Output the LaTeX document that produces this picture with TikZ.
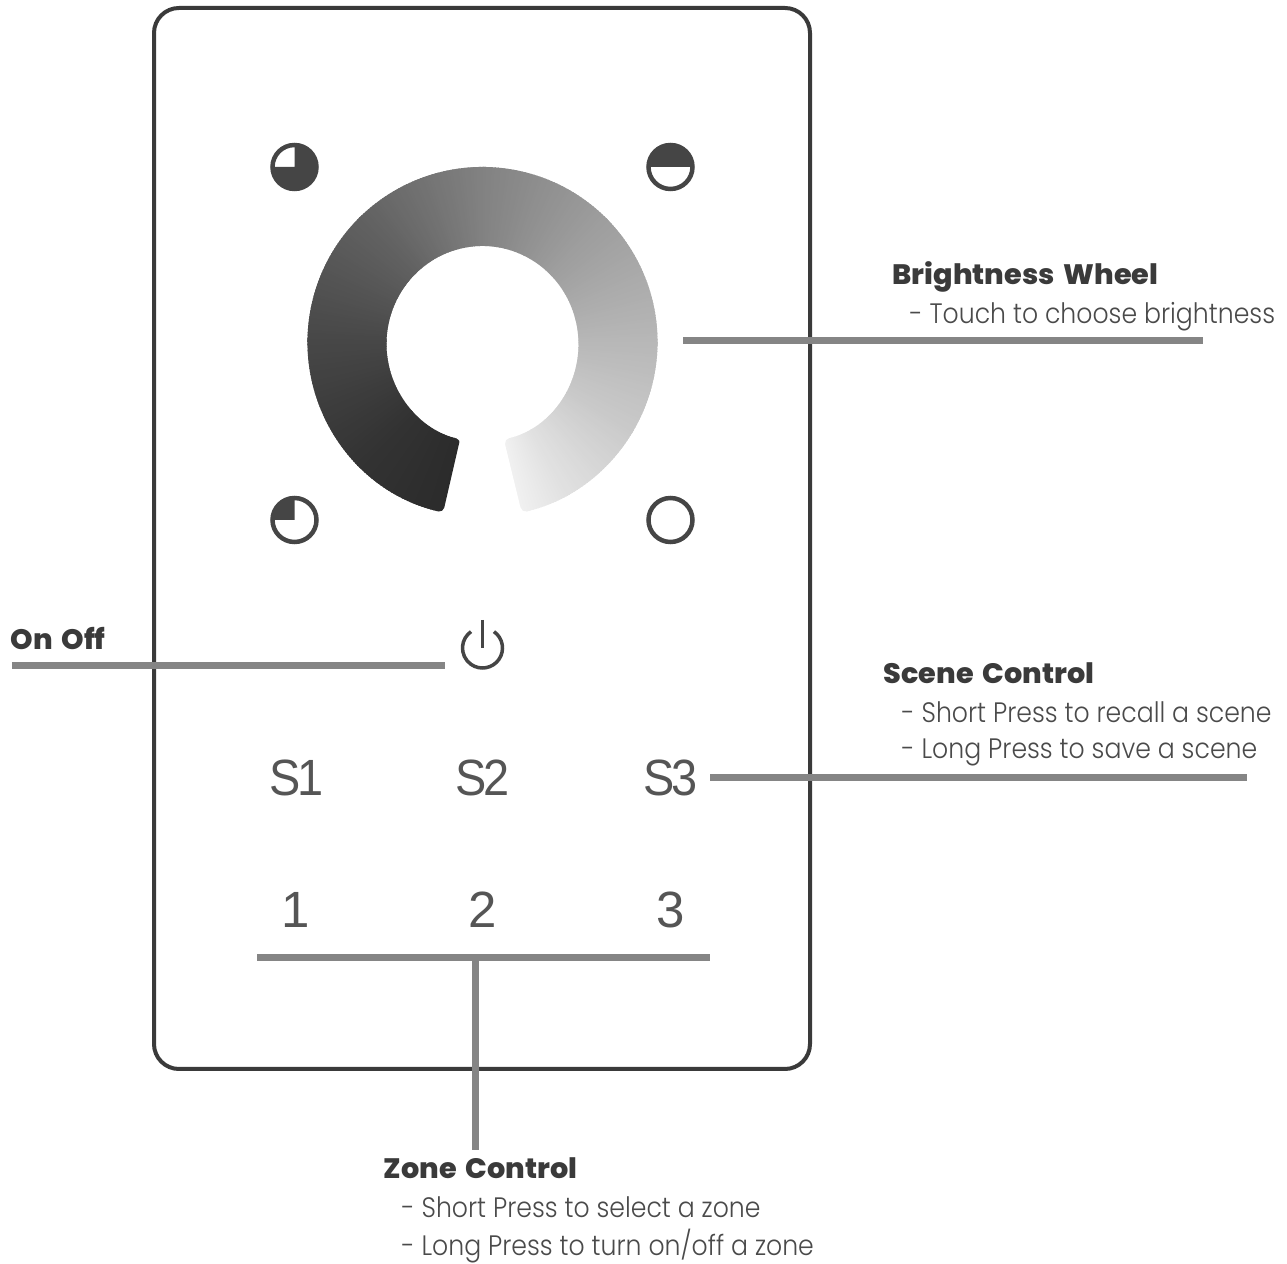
\documentclass[tikz,border=0pt]{standalone}
\usepackage{fontspec}
\setmainfont{Liberation Sans}
\newfontfamily\keyfont[LetterSpace=-6,FakeStretch=0.92]{Liberation Sans}
\newfontfamily\headfont[FakeStretch=1.02,WordSpace=1.6]{Poppins ExtraBold}
\newfontfamily\notefont[FakeStretch=0.895]{Poppins Light}
\definecolor{panelline}{HTML}{3A3A3A}
\definecolor{leaderline}{HTML}{858585}
\definecolor{keytext}{HTML}{555555}
\definecolor{iconline}{HTML}{454545}
\definecolor{notetext}{HTML}{4A4A4A}
\begin{document}
\begin{tikzpicture}[x=1cm,y=1cm]
\tikzset{
  leader/.style={line width=0.07cm,leaderline},
  keylabel/.style={font=\fontsize{14.5}{16}\selectfont,text=keytext,inner sep=0pt},
  scenelabel/.style={keylabel,font=\keyfont\fontsize{14.5}{16}\selectfont},
  headlabel/.style={font=\headfont\fontsize{8}{10}\selectfont,text=panelline,inner sep=0pt,anchor=west},
  notelabel/.style={font=\notefont\fontsize{8}{10}\selectfont,text=notetext,inner sep=0pt,anchor=west},
  lamp/.style={circle,draw=iconline,line width=0.045cm,minimum size=0.44cm,inner sep=0pt}
}
\useasboundingbox (0,0) rectangle (12.87,12.64);
\draw[panelline,line width=0.04cm,rounded corners=0.25cm] (1.54,1.95) rectangle (8.10,12.56);
% wheel
\coordinate (c_W) at (4.825,9.22);
\coordinate (i_W) at (4.825,9.20);
\begin{scope}
\path[clip,rounded corners=0.05cm] ([shift={(c_W)}]257:1.75) arc[start angle=257,end angle=-77,radius=1.75]
  -- ([shift={(i_W)}]-77:0.96 and 0.98) arc[start angle=-77,end angle=257,x radius=0.96,y radius=0.98] -- cycle;
\foreach \a/\b/\ga/\gb in {0/32/0.17/0.20,32/77/0.20/0.28,77/122/0.28/0.38,122/167/0.38/0.51,167/212/0.51/0.62,
  212/257/0.62/0.72,257/287/0.72/0.79,287/317/0.79/0.88,317/335/0.88/0.95}{
  \foreach \d in {\a,...,\b}{
    \pgfmathsetmacro{\g}{\ga+(\gb-\ga)*(\d-\a)/(\b-\a)}
    \definecolor{wheelshade}{gray}{\g}
    \fill[wheelshade] (c_W) -- ([shift={(c_W)}]257-\d:1.8) -- ([shift={(c_W)}]255.5-\d:1.8) -- cycle;
  }
}
\end{scope}
% lamps
\node[lamp] (l_A) at (2.945,10.97) {};
\node[lamp] (l_B) at (6.705,10.97) {};
\node[lamp] (l_C) at (2.945,7.44) {};
\node[lamp] (l_D) at (6.705,7.44) {};
\fill[iconline] (l_A.center) -- ++(-0.22,0) arc[start angle=180,end angle=450,radius=0.22] -- cycle;
\fill[iconline] ([xshift=-0.22cm]l_B.center) arc[start angle=180,end angle=0,radius=0.22] -- cycle;
\fill[iconline] (l_C.center) -- ++(-0.22,0) arc[start angle=180,end angle=90,radius=0.22] -- cycle;
% power
\node[inner sep=0pt,minimum size=0.42cm] (n_P) at (4.825,6.16) {};
\draw[iconline,line width=0.035cm] ([shift={(n_P.center)}]55:0.2) arc[start angle=55,end angle=-235,radius=0.2];
\draw[iconline,line width=0.035cm] (4.825,6.44) -- (4.825,6.16);
% keys
\node[scenelabel] (s_1) at (2.965,4.86) {S1};
\node[scenelabel] (s_2) at (4.825,4.86) {S2};
\node[scenelabel] (s_3) at (6.705,4.86) {S3};
\node[keylabel] (z_1) at (2.955,3.54) {1};
\node[keylabel] (z_2) at (4.825,3.54) {2};
\node[keylabel] (z_3) at (6.705,3.54) {3};
% labels
\node[headlabel] (t_B) at (8.92,9.87) {Brightness Wheel};
\node[notelabel] (t_Ba) at (9.09,9.47) {- Touch to choose brightness};
\node[headlabel] (t_O) at (0.1,6.25) {On Off};
\node[headlabel] (t_S) at (8.83,5.91) {Scene Control};
\node[notelabel] (t_Sa) at (9.01,5.52) {- Short Press to recall a scene};
\node[notelabel] (t_Sb) at (9.01,5.12) {- Long Press to save a scene};
\node[headlabel] (t_Z) at (3.83,0.96) {Zone Control};
\node[notelabel] (t_Za) at (4.01,0.57) {- Short Press to select a zone};
\node[notelabel] (t_Zb) at (4.01,0.18) {- Long Press to turn on/off a zone};
% leaders
\coordinate (b_W) at (6.83,9.23);
\coordinate (e_W) at (12.03,9.23);
\coordinate (b_O) at (0.12,5.98);
\coordinate (e_O) at (4.45,5.98);
\coordinate (b_S) at (7.10,4.86);
\coordinate (e_S) at (12.47,4.86);
\coordinate (b_Z) at (2.57,3.06);
\coordinate (e_Z) at (7.10,3.06);
\coordinate (m_Z) at (4.75,3.06);
\coordinate (f_Z) at (4.75,1.14);
\draw[leader] (b_W) -- (e_W);
\draw[leader] (b_O) -- (e_O);
\draw[leader] (b_S) -- (e_S);
\draw[leader] (b_Z) -- (e_Z);
\draw[leader] (m_Z) -- (f_Z);
\end{tikzpicture}
\end{document}
